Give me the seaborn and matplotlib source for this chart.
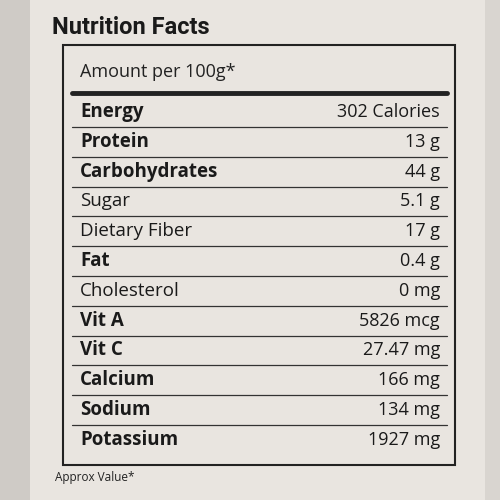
import matplotlib
matplotlib.use("Agg")
import matplotlib.pyplot as plt
import seaborn as sns

nutrients = ["Energy", "Protein", "Carbohydrates", "Sugar", "Dietary Fiber", "Fat",
             "Cholesterol", "Vit A", "Vit C", "Calcium", "Sodium", "Potassium"]
amounts = ["302 Calories", "13 g", "44 g", "5.1 g", "17 g", "0.4 g",
           "0 mg", "5826 mcg", "27.47 mg", "166 mg", "134 mg", "1927 mg"]
bold = [True, True, True, False, False, True, False, True, True, True, True, True]
title = "Nutrition Facts"
subtitle = "Amount per 100g*"
footnote = "Approx Value*"

sns.set_theme(style="white")
plt.rcParams['font.family'] = ['Open Sans', 'DejaVu Sans']
bg = "#e9e5e0"
fig = plt.figure(figsize=(5, 5), dpi=100, facecolor=bg)
ax = fig.add_axes([0, 0, 1, 1], facecolor=bg)
ax.set_xlim(0, 500); ax.set_ylim(500, 0); ax.axis("off")

ax.axvspan(0, 30, color="#cfcbc6", lw=0)
ax.axvspan(485, 500, color="#d9d5d0", lw=0)

ax.text(52, 27, title, fontsize=17, fontweight="bold", family=["Roboto", "DejaVu Sans"],
        ha="left", va="center", color="#1a1a1a")
ax.add_patch(plt.Rectangle((63, 45), 392, 420, fill=False, ec="#222", lw=1.5))
ax.text(80, 72, subtitle, fontsize=13, ha="left", va="center", color="#222")
ax.plot([72, 447], [93, 93], color="#222", lw=3.5)

y0, dy = 112, 29.8
for i, (n, a, b) in enumerate(zip(nutrients, amounts, bold)):
    y = y0 + i * dy
    ax.text(80, y, n, fontsize=13.5, fontweight="bold" if b else "normal", ha="left", va="center", color="#1a1a1a")
    ax.text(440, y, a, fontsize=13, ha="right", va="center", color="#1a1a1a")
    if i < len(nutrients) - 1:
        ax.plot([72, 447], [y + dy / 2, y + dy / 2], color="#333", lw=0.9)

ax.text(55, 477, footnote, fontsize=8.5, ha="left", va="center", color="#222")
fig.savefig("out.png", dpi=100, facecolor=bg)
